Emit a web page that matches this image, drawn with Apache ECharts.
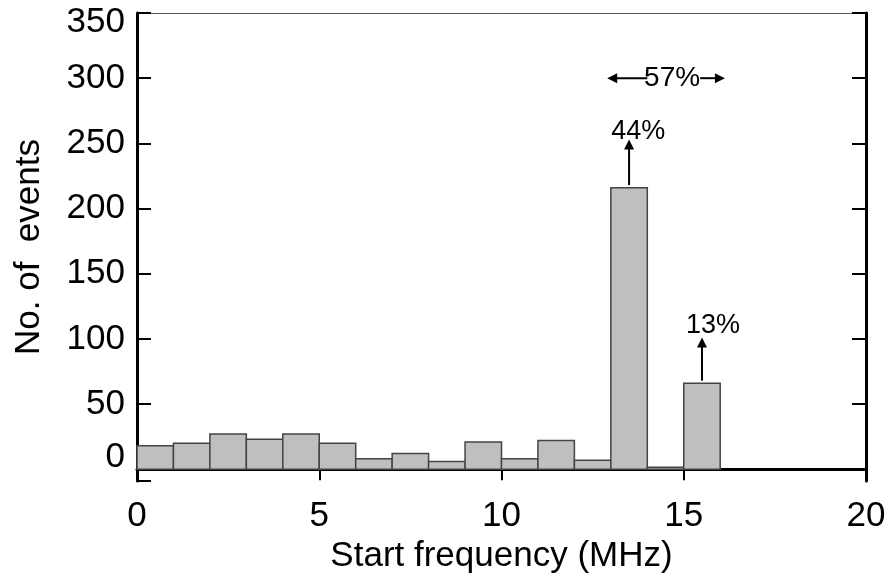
<!DOCTYPE html>
<html><head><meta charset="utf-8">
<script src="https://cdn.jsdelivr.net/npm/echarts@6/dist/echarts.min.js"></script>
<style>html,body{margin:0;padding:0;background:#fff}#c{width:890px;height:576px}</style>
</head><body><div id="c"></div>
<script>
// ---- data ----
const binEdges = [0,1,2,3,4,5,6,7,8,9,10,11,12,13,14,15,16];
const counts = [18,20,27,23,27,20,8,12,6,21,8,22,7,216,1.5,66];
const xTickValues = [0,5,10,15,20];
const yTickValues = [0,50,100,150,200,250,300,350];
const yMin = -9, yMax = 350;
// single-bin arrows
const arrowX = [13.5, 15.5];
const arrowFrom = [218, 68];
const arrowTo = [253, 101];
const arrowLabels = ['44%', '13%'];
const arrowLabelX = [13.75, 15.8];
const arrowLabelY = [259, 110];
// double arrow spanning bins
const spanEnds = [12.9, 16.13];
const spanGap = [14.0, 15.45];
const spanY = 300;
const spanLabel = '57%';
const spanLabelX = 14.68;

const FONT = "'Liberation Sans', Arial, Helvetica, sans-serif";
const chart = echarts.init(document.getElementById('c'));

const barData = counts.map((v, i) => [binEdges[i], binEdges[i + 1], v]);
const annData = arrowX.map((x, i) => ['arrow', i]).concat([['span', 0]]);

function head(tip, dir, len, half) {
  if (dir === 'up') return [[tip[0], tip[1]], [tip[0] - half, tip[1] + len], [tip[0] + half, tip[1] + len]];
  if (dir === 'left') return [[tip[0], tip[1]], [tip[0] + len, tip[1] - half], [tip[0] + len, tip[1] + half]];
  return [[tip[0], tip[1]], [tip[0] - len, tip[1] - half], [tip[0] - len, tip[1] + half]];
}

const option = {
  backgroundColor: '#fff',
  animation: false,
  grid: { left: 137, right: 24, top: 13, bottom: 95, containLabel: false, outerBoundsMode: 'none' },
  xAxis: [{
    type: 'value', min: 0, max: 20, interval: 5, position: 'bottom',
    axisLine: { show: true, onZero: true, lineStyle: { color: '#000', width: 3 } },
    axisTick: { show: true, inside: false, length: 11, lineStyle: { color: '#000', width: 2 } },
    axisLabel: { fontSize: 35, color: '#000', fontFamily: FONT, margin: 18 },
    splitLine: { show: false },
    name: 'Start frequency (MHz)', nameLocation: 'middle', nameGap: 52,
    nameTextStyle: { fontSize: 35, color: '#000', fontFamily: FONT }
  }, {
    type: 'value', min: 0, max: 20, position: 'top',
    axisLine: { show: true, onZero: false, lineStyle: { color: '#555', width: 1 } },
    axisTick: { show: false }, axisLabel: { show: false }, splitLine: { show: false }
  }],
  yAxis: [{
    type: 'value', min: yMin, max: yMax, position: 'left',
    axisLine: { show: true, onZero: false, lineStyle: { color: '#000', width: 3 } },
    axisTick: { show: true, inside: true, length: 14, customValues: [yMin].concat(yTickValues), lineStyle: { color: '#000', width: 2 } },
    axisLabel: {
      customValues: yTickValues, margin: 12, fontSize: 35, color: '#000', fontFamily: FONT,
      formatter: v => v === yMax ? '{t|' + v + '}' : (v === 0 ? '{b|' + v + '}' : '{n|' + v + '}'),
      rich: {
        n: { fontSize: 35, fontFamily: FONT, color: '#000' },
        t: { fontSize: 35, fontFamily: FONT, color: '#000', padding: [18, 0, 0, 0] },
        b: { fontSize: 35, fontFamily: FONT, color: '#000', padding: [0, 0, 24, 0] }
      }
    },
    splitLine: { show: false },
    name: 'No. of  events', nameLocation: 'middle', nameGap: 90,
    nameTextStyle: { fontSize: 35, color: '#000', fontFamily: FONT }
  }, {
    type: 'value', min: yMin, max: yMax, position: 'right',
    axisLine: { show: true, onZero: false, lineStyle: { color: '#000', width: 3 } },
    axisTick: { show: true, inside: true, length: 14, customValues: yTickValues, lineStyle: { color: '#000', width: 2 } },
    axisLabel: { show: false }, splitLine: { show: false }
  }],
  series: [{
    type: 'custom', xAxisIndex: 0, yAxisIndex: 0, data: barData, z: 1,
    renderItem: (params, api) => {
      const p0 = api.coord([api.value(0), 0]);
      const p1 = api.coord([api.value(1), api.value(2)]);
      return {
        type: 'rect',
        shape: { x: p0[0], y: p1[1], width: p1[0] - p0[0], height: p0[1] - p1[1] },
        style: { fill: '#bfbfbf', stroke: '#444', lineWidth: 1.5 }
      };
    }
  }, {
    type: 'custom', xAxisIndex: 0, yAxisIndex: 0, data: annData, z: 5,
    renderItem: (params, api) => {
      const kind = annData[params.dataIndex][0];
      const i = annData[params.dataIndex][1];
      const txt = { fill: '#000', fontSize: 27, fontFamily: FONT, align: 'center', verticalAlign: 'middle' };
      if (kind === 'arrow') {
        const a = api.coord([arrowX[i], arrowFrom[i]]);
        const b = api.coord([arrowX[i], arrowTo[i]]);
        const t = api.coord([arrowLabelX[i], arrowLabelY[i]]);
        return { type: 'group', children: [
          { type: 'line', shape: { x1: a[0], y1: a[1], x2: b[0], y2: b[1] + 8 }, style: { stroke: '#000', lineWidth: 2 } },
          { type: 'polygon', shape: { points: head(b, 'up', 10, 5) }, style: { fill: '#000' } },
          { type: 'text', x: t[0], y: t[1], style: Object.assign({ text: arrowLabels[i] }, txt) }
        ]};
      }
      const l = api.coord([spanEnds[0], spanY]);
      const r = api.coord([spanEnds[1], spanY]);
      const g0 = api.coord([spanGap[0], spanY]);
      const g1 = api.coord([spanGap[1], spanY]);
      const t = api.coord([spanLabelX, spanY]);
      return { type: 'group', children: [
        { type: 'line', shape: { x1: l[0] + 8, y1: l[1], x2: g0[0], y2: g0[1] }, style: { stroke: '#000', lineWidth: 2 } },
        { type: 'line', shape: { x1: g1[0], y1: g1[1], x2: r[0] - 8, y2: r[1] }, style: { stroke: '#000', lineWidth: 2 } },
        { type: 'polygon', shape: { points: head(l, 'left', 10, 5) }, style: { fill: '#000' } },
        { type: 'polygon', shape: { points: head(r, 'right', 10, 5) }, style: { fill: '#000' } },
        { type: 'text', x: t[0], y: t[1], style: Object.assign({ text: spanLabel }, txt, { fontSize: 28 }) }
      ]};
    }
  }]
};
chart.setOption(option);
</script>
</body></html>
